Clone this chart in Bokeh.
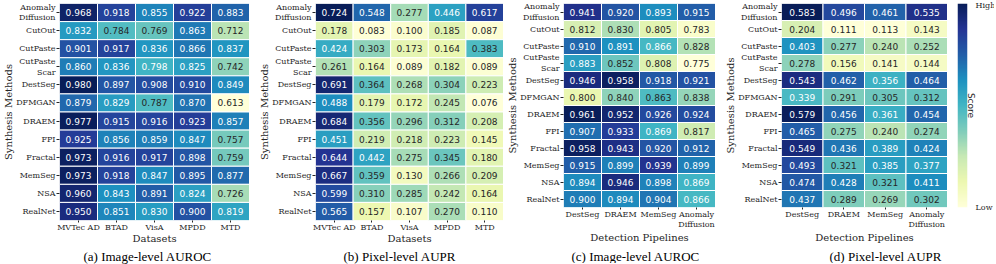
import numpy as np
from bokeh.plotting import figure
from bokeh.models import (FactorRange, Range1d, LinearColorMapper, ColumnDataSource,
                          LinearAxis, FixedTicker)
from bokeh.layouts import row
from bokeh.core.properties import value
from bokeh.transform import linear_cmap
from bokeh.embed import file_html
from bokeh.resources import INLINE

# ---------------- data ----------------
methods = ["Anomaly\nDiffusion", "CutOut", "CutPaste", "CutPaste\nScar", "DestSeg", "DFMGAN",
           "DRAEM", "FPI", "Fractal", "MemSeg", "NSA", "RealNet"]
datasets = ["MVTec AD", "BTAD", "VisA", "MPDD", "MTD"]
pipelines = ["DestSeg", "DRAEM", "MemSeg", "Anomaly\nDiffusion"]

img_auroc_datasets = [
    [0.968, 0.918, 0.855, 0.922, 0.883],
    [0.832, 0.784, 0.769, 0.863, 0.712],
    [0.901, 0.917, 0.836, 0.866, 0.837],
    [0.860, 0.836, 0.798, 0.825, 0.742],
    [0.980, 0.897, 0.908, 0.910, 0.849],
    [0.879, 0.829, 0.787, 0.870, 0.613],
    [0.977, 0.915, 0.916, 0.923, 0.857],
    [0.925, 0.856, 0.859, 0.847, 0.757],
    [0.973, 0.916, 0.917, 0.898, 0.759],
    [0.973, 0.918, 0.847, 0.895, 0.877],
    [0.960, 0.843, 0.891, 0.824, 0.726],
    [0.950, 0.851, 0.830, 0.900, 0.819],
]
pix_aupr_datasets = [
    [0.724, 0.548, 0.277, 0.446, 0.617],
    [0.178, 0.083, 0.100, 0.185, 0.087],
    [0.424, 0.303, 0.173, 0.164, 0.383],
    [0.261, 0.164, 0.089, 0.182, 0.089],
    [0.691, 0.364, 0.268, 0.304, 0.223],
    [0.488, 0.179, 0.172, 0.245, 0.076],
    [0.684, 0.356, 0.296, 0.312, 0.208],
    [0.451, 0.219, 0.218, 0.223, 0.145],
    [0.644, 0.442, 0.275, 0.345, 0.180],
    [0.667, 0.359, 0.130, 0.266, 0.209],
    [0.599, 0.310, 0.285, 0.242, 0.164],
    [0.565, 0.157, 0.107, 0.270, 0.110],
]
img_auroc_pipelines = [
    [0.941, 0.920, 0.893, 0.915],
    [0.812, 0.830, 0.805, 0.783],
    [0.910, 0.891, 0.866, 0.828],
    [0.883, 0.852, 0.808, 0.775],
    [0.946, 0.958, 0.918, 0.921],
    [0.800, 0.840, 0.863, 0.838],
    [0.961, 0.952, 0.926, 0.924],
    [0.907, 0.933, 0.869, 0.817],
    [0.958, 0.943, 0.920, 0.912],
    [0.915, 0.899, 0.939, 0.899],
    [0.894, 0.946, 0.898, 0.869],
    [0.900, 0.894, 0.904, 0.866],
]
pix_aupr_pipelines = [
    [0.583, 0.496, 0.461, 0.535],
    [0.204, 0.111, 0.113, 0.143],
    [0.403, 0.277, 0.240, 0.252],
    [0.278, 0.156, 0.141, 0.144],
    [0.543, 0.462, 0.356, 0.464],
    [0.339, 0.291, 0.305, 0.312],
    [0.579, 0.456, 0.361, 0.454],
    [0.465, 0.275, 0.240, 0.274],
    [0.549, 0.436, 0.389, 0.424],
    [0.493, 0.321, 0.385, 0.377],
    [0.474, 0.428, 0.321, 0.411],
    [0.437, 0.289, 0.269, 0.302],
]

# ---------------- colormap (YlGnBu, 256 steps) ----------------
anchors = ["#ffffd9", "#edf8b1", "#c7e9b4", "#7fcdbb", "#41b6c4",
           "#1d91c0", "#225ea8", "#253494", "#081d58"]
arr = np.array([[int(h[i:i + 2], 16) for i in (1, 3, 5)] for h in anchors], dtype=float)
t = np.linspace(0, 1, 256)
pos = np.linspace(0, 1, len(anchors))
rgb = np.stack([np.interp(t, pos, arr[:, k]) for k in range(3)], axis=1)
PAL = ["#%02x%02x%02x" % tuple(int(round(c)) for c in r) for r in rgb]

DARK = "#262626"


def lum(rgbrow):
    c = rgbrow / 255.0
    c = np.where(c <= 0.03928, c / 12.92, ((c + 0.055) / 1.055) ** 2.4)
    return 0.2126 * c[0] + 0.7152 * c[1] + 0.0722 * c[2]


def panel(values, cols, xlabel, caption, fw, fh, bl, bt, bb, cap_offset, xl_standoff):
    vals = np.array(values)
    lo, hi = float(vals.min()), float(vals.max())
    xs, ys, vs, labs, tcs = [], [], [], [], []
    for i, m in enumerate(methods):
        for j, c in enumerate(cols):
            v = values[i][j]
            xs.append(c)
            ys.append(m)
            vs.append(v)
            labs.append("%.3f" % v)
            idx = min(int((v - lo) / (hi - lo) * 256), 255)
            tcs.append(DARK if lum(rgb[idx]) > 0.408 else "white")
    src = ColumnDataSource(dict(x=xs, y=ys, v=vs, lab=labs, tc=tcs))
    p = figure(x_range=FactorRange(factors=cols), y_range=FactorRange(factors=list(reversed(methods))),
               frame_width=fw, frame_height=fh, min_border_left=bl, min_border_right=0,
               min_border_top=bt, min_border_bottom=bb, output_backend="svg",
               toolbar_location=None, title=caption, title_location="below")
    p.rect(x="x", y="y", width=1, height=1, source=src,
           fill_color=linear_cmap("v", PAL, lo, hi), line_color="white", line_width=1)
    p.text(x="x", y="y", text="lab", source=src, text_color="tc", text_align="center",
           text_baseline="middle", text_font=value("DejaVu Sans"), text_font_size="9px")
    p.grid.visible = False
    p.outline_line_color = None
    for ax in (p.xaxis[0], p.yaxis[0]):
        ax.axis_line_color = None
        ax.major_tick_in = 0
        ax.major_tick_out = 3
        ax.major_tick_line_color = DARK
        ax.major_label_text_font = "DejaVu Serif"
        ax.major_label_text_font_size = "8px"
        ax.major_label_text_color = DARK
        ax.major_label_standoff = 1
        ax.axis_label_text_font = "DejaVu Serif"
        ax.axis_label_text_font_size = "10px"
        ax.axis_label_text_font_style = "normal"
        ax.axis_label_text_color = DARK
        ax.axis_label_standoff = -1
    p.xaxis.major_tick_out = 2
    p.xaxis.major_label_standoff = 0
    p.xaxis.axis_label_standoff = xl_standoff
    p.xaxis.axis_label = xlabel
    p.yaxis.axis_label = "Synthesis Methods"
    p.title.align = "left"
    p.title.text_font = "Liberation Serif"
    p.title.text_font_size = "13px"
    p.title.text_font_style = "normal"
    p.title.text_color = "black"
    p.title.standoff = 0
    p.title.offset = cap_offset
    return p


pa = panel(img_auroc_datasets, datasets, "Datasets", "(a) Image-level AUROC", 190, 217, 58, 1, 46, 24, -2)
pb = panel(pix_aupr_datasets, datasets, "Datasets", "(b) Pixel-level AUPR", 188, 217, 66, 1, 46, 28, -2)
pc = panel(img_auroc_pipelines, pipelines, "Detection Pipelines", "(c) Image-level AUROC", 152, 204, 60, 3, 56, 8, 0)
pd_ = panel(pix_aupr_pipelines, pipelines, "Detection Pipelines", "(d) Pixel-level AUPR", 166, 204, 66, 3, 56, 48, 0)

# colorbar
cb = figure(x_range=Range1d(0, 1), y_range=Range1d(0, 1), frame_width=10, frame_height=204,
            min_border_left=10, min_border_right=27, min_border_top=3, min_border_bottom=56,
            x_axis_location=None, y_axis_location=None, output_backend="svg", toolbar_location=None)
grad = np.linspace(0, 1, 256).reshape(256, 1)
cb.image(image=[grad], x=0, y=0, dw=1, dh=1,
         color_mapper=LinearColorMapper(palette=PAL, low=0, high=1))
cb.grid.visible = False
cb.outline_line_color = None
ax = LinearAxis(ticker=FixedTicker(ticks=[0, 1]), major_label_overrides={0: "Low", 1: "High"})
ax.axis_line_color = None
ax.major_tick_in = 0
ax.major_tick_out = 0
ax.minor_tick_out = 0
ax.minor_tick_in = 0
ax.major_label_standoff = 8
ax.major_label_text_font = "DejaVu Serif"
ax.major_label_text_font_size = "8px"
ax.major_label_text_color = DARK
ax.axis_label = "Score"
ax.axis_label_text_font = "DejaVu Sans"
ax.axis_label_text_font_size = "9px"
ax.axis_label_text_font_style = "normal"
ax.axis_label_text_color = DARK
ax.axis_label_standoff = -32
cb.add_layout(ax, "right")

layout = row(pa, pb, pc, pd_, cb)
open("out.html", "w").write(file_html(layout, INLINE))
